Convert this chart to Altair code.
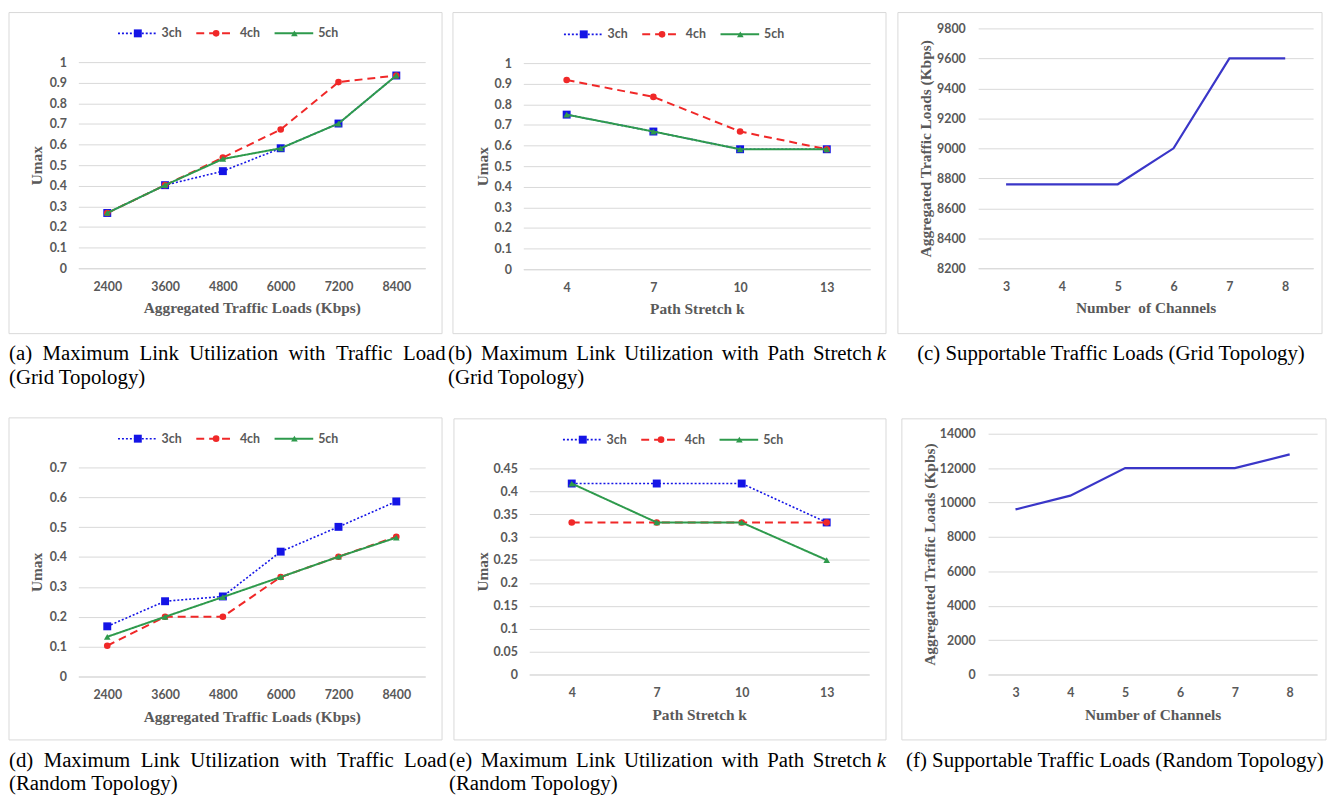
import altair as alt
import pandas as pd

# ---------------- data ----------------
SERIES = ["3ch", "4ch", "5ch"]
loads = [2400, 3600, 4800, 6000, 7200, 8400]
stretch = [4, 7, 10, 13]
channels = [3, 4, 5, 6, 7, 8]

a_3ch = [0.268, 0.403, 0.471, 0.582, 0.702, 0.935]
a_4ch = [0.268, 0.403, 0.537, 0.673, 0.903, 0.935]
a_5ch = [0.268, 0.403, 0.530, 0.582, 0.702, 0.935]

b_3ch = [0.750, 0.668, 0.582, 0.582]
b_4ch = [0.918, 0.836, 0.668, 0.582]
b_5ch = [0.750, 0.668, 0.582, 0.582]

c_load = [8760, 8760, 8760, 9000, 9600, 9600]

d_3ch = [0.168, 0.252, 0.268, 0.418, 0.501, 0.586]
d_4ch = [0.103, 0.200, 0.200, 0.333, 0.401, 0.468]
d_5ch = [0.133, 0.200, 0.266, 0.333, 0.401, 0.465]

e_3ch = [0.417, 0.417, 0.417, 0.332]
e_4ch = [0.332, 0.332, 0.332, 0.332]
e_5ch = [0.417, 0.332, 0.332, 0.250]

f_load = [9600, 10400, 12000, 12000, 12000, 12800]

ticks_util = [0, 0.1, 0.2, 0.3, 0.4, 0.5, 0.6, 0.7, 0.8, 0.9, 1]
ticks_d = [0, 0.1, 0.2, 0.3, 0.4, 0.5, 0.6, 0.7]
ticks_e = [0, 0.05, 0.1, 0.15, 0.2, 0.25, 0.3, 0.35, 0.4, 0.45]
ticks_c = [8200, 8400, 8600, 8800, 9000, 9200, 9400, 9600, 9800]
ticks_f = [0, 2000, 4000, 6000, 8000, 10000, 12000, 14000]

# ---------------- styles ----------------
COLORS = ["#1414e6", "#f02828", "#2e9a4c"]
DASHES = [[2, 2], [8, 5], [1, 0]]
WIDTHS = [1.6, 2, 2]
SHAPES = ["square", "circle", "triangle-up"]
SIZES = [64, 45, 45]
LOAD_COLOR = "#3a36c8"

TICK_FONT = "Lato"
TITLE_FONT = "Liberation Serif"
CAP_FONT = "Liberation Serif"
CAP_SIZE = 21
GRAY = "#595959"
GRID = "#d9d9d9"
WIDE = "\u2002"          # gap for justified caption lines (a, d)
MID = " \u2006"          # gap for justified caption lines (b, e)

one = pd.DataFrame({"k": [0]})


class Geo:
    """Page-pixel geometry of one panel, turned into plot-relative offsets."""

    def __init__(self, left, right, top, bottom, origin_y):
        self.left, self.oy = left, origin_y
        self.w = right - left
        self.h = bottom - origin_y
        self.rng = [bottom - origin_y, top - origin_y]

    def x(self, px):
        return px - self.left

    def y(self, py):
        return py - self.oy


def rect(g, box, stroke_opacity):
    x1, y1, x2, y2 = box
    return alt.Chart(one).mark_rect(
        fill="white", fillOpacity=0, stroke=GRID, strokeWidth=1,
        strokeOpacity=stroke_opacity
    ).encode(x=alt.value(g.x(x1)), x2=alt.value(g.x(x2)),
             y=alt.value(g.y(y1)), y2=alt.value(g.y(y2)))


def text(txt, x, y, align="left", font=CAP_FONT, size=CAP_SIZE, weight="normal",
         style="normal", color="black"):
    return alt.Chart(one).mark_text(
        align=align, baseline="middle", font=font, fontSize=size,
        fontWeight=weight, fontStyle=style, color=color
    ).encode(x=alt.value(x), y=alt.value(y), text=alt.value(txt))


def x_axis(title):
    return alt.Axis(
        title=title, grid=False, domain=True, domainColor=GRID, domainWidth=1,
        ticks=False, tickSize=0, labelAngle=0, labelPadding=18,
        labelBaseline="middle", labelFont=TICK_FONT, labelFontSize=12.5,
        labelFontWeight="bold", labelColor=GRAY, titleFont=TITLE_FONT,
        titleFontSize=15.5, titleFontWeight="bold", titleColor=GRAY,
        titleY=40, titleBaseline="middle")


def y_axis(title, values, fmt, g, ytitle_page_x, label_pad):
    return alt.Axis(
        title=title, values=values, format=fmt, grid=True, gridColor=GRID,
        gridWidth=1, domain=False, ticks=False, tickSize=0, labelPadding=label_pad,
        labelFont=TICK_FONT, labelFontSize=12.5, labelFontWeight="bold",
        labelColor=GRAY, titleFont=TITLE_FONT, titleFontSize=15.5,
        titleFontWeight="bold", titleColor=GRAY, titleX=g.x(ytitle_page_x),
        titleY=(g.rng[0] + g.rng[1]) / 2, titleBaseline="middle", titleAlign="center")


def captions(g, lines):
    return [text(t, g.x(x), g.y(y), align=al, style=st) for (t, x, y, al, st) in lines]


def util_panel(g, xv, ys, x_title, y_dom, y_ticks, frame, extent, leg, ytx, caps):
    layers = [rect(g, extent, 0), rect(g, frame, 1)]
    xenc = alt.X("x:O", scale=alt.Scale(type="point", padding=0.5), axis=x_axis(x_title))
    yenc = alt.Y("y:Q", scale=alt.Scale(domain=y_dom, range=g.rng, nice=False, zero=False),
                 axis=y_axis("Umax", y_ticks, "~g", g, ytx, 12))
    for i, s in enumerate(SERIES):
        df = pd.DataFrame({"x": xv, "y": ys[i]})
        base = alt.Chart(df).encode(x=xenc, y=yenc)
        layers.append(base.mark_line(color=COLORS[i], strokeDash=DASHES[i],
                                     strokeWidth=WIDTHS[i]))
        layers.append(base.mark_point(filled=True, shape=SHAPES[i], size=SIZES[i],
                                      color=COLORS[i], opacity=1))
    lx, ly = g.x(leg[0]), g.y(leg[1])
    for i, s in enumerate(SERIES):
        x = lx + 79 * i
        layers.append(alt.Chart(one).mark_rule(
            color=COLORS[i], strokeDash=DASHES[i], strokeWidth=WIDTHS[i]
        ).encode(x=alt.value(x), x2=alt.value(x + 39), y=alt.value(ly)))
        layers.append(alt.Chart(one).mark_point(
            filled=True, shape=SHAPES[i], size=SIZES[i], color=COLORS[i], opacity=1
        ).encode(x=alt.value(x + 20), y=alt.value(ly)))
        layers.append(text(s, x + 44, ly, font=TICK_FONT, size=12.5, weight="bold",
                           color=GRAY))
    layers += captions(g, caps)
    return alt.layer(*layers).properties(width=g.w, height=g.h)


def load_panel(g, xv, yv, x_title, y_title, y_dom, y_ticks, frame, extent, ytx, caps):
    layers = [rect(g, extent, 0), rect(g, frame, 1)]
    df = pd.DataFrame({"x": xv, "y": yv})
    layers.append(alt.Chart(df).mark_line(color=LOAD_COLOR, strokeWidth=2.2).encode(
        x=alt.X("x:O", scale=alt.Scale(type="point", padding=0.5), axis=x_axis(x_title)),
        y=alt.Y("y:Q", scale=alt.Scale(domain=y_dom, range=g.rng, nice=False, zero=False),
                axis=y_axis(y_title, y_ticks, "d", g, ytx, 13))))
    layers += captions(g, caps)
    return alt.layer(*layers).properties(width=g.w, height=g.h)


ROW1_Y, ROW2_Y = 59, 468

ga = Geo(78, 428, 59, 267, ROW1_Y)
gb = Geo(527, 877, 60, 268, ROW1_Y)
gc = Geo(986, 1324, 25, 267, ROW1_Y)
gd = Geo(78, 428, 468, 679, ROW2_Y)
ge = Geo(529, 872, 469, 677, ROW2_Y)
gf = Geo(992, 1324, 434, 677, ROW2_Y)

panel_a = util_panel(
    ga, loads, [a_3ch, a_4ch, a_5ch], "Aggregated Traffic Loads (Kbps)", [0, 1], ticks_util,
    (8, 9, 445, 333), (8, 9, 450, 410), (118, 30), 36,
    [("(a) Maximum Link Utilization with Traffic Load".replace(" ", WIDE), 8, 354, "left", "normal"),
     ("(Grid Topology)", 8, 378, "left", "normal")])

panel_b = util_panel(
    gb, stretch, [b_3ch, b_4ch, b_5ch], "Path Stretch k", [0, 1], ticks_util,
    (456, 9, 893, 333), (450, 9, 899, 410), (568, 31), 486,
    [("(b) Maximum Link Utilization with Path Stretch".replace(" ", MID), 451, 354, "left", "normal"),
     ("k", 893, 354, "right", "italic"),
     ("(Grid Topology)", 451, 378, "left", "normal")])

panel_c = load_panel(
    gc, channels, c_load, "Number\u00a0 of Channels", "Aggregated Traffic Loads (Kbps)",
    [8200, 9800], ticks_c, (905, 9, 1333, 333), (899, 9, 1333, 410), 933,
    [("(c) Supportable Traffic Loads (Grid Topology)", 1120, 354, "center", "normal")])

panel_d = util_panel(
    gd, loads, [d_3ch, d_4ch, d_5ch], "Aggregated Traffic Loads (Kbps)", [0, 0.7], ticks_d,
    (8, 418, 445, 743), (8, 410, 447, 797), (118, 439), 36,
    [("(d) Maximum Link Utilization with Traffic Load".replace(" ", WIDE), 8, 764, "left", "normal"),
     ("(Random Topology)", 8, 788, "left", "normal")])

panel_e = util_panel(
    ge, stretch, [e_3ch, e_4ch, e_5ch], "Path Stretch k", [0, 0.45], ticks_e,
    (453, 419, 889, 743), (447, 410, 899, 797), (563, 440), 482,
    [("(e) Maximum Link Utilization with Path Stretch".replace(" ", MID), 448, 764, "left", "normal"),
     ("k", 889, 764, "right", "italic"),
     ("(Random Topology)", 448, 788, "left", "normal")])

panel_f = load_panel(
    gf, channels, f_load, "Number of Channels", "Aggregatted Traffic Loads (Kpbs)",
    [0, 14000], ticks_f, (905, 419, 1333, 743), (899, 410, 1333, 797), 933,
    [("(f) Supportable Traffic Loads (Random Topology)", 1120, 764, "center", "normal")])

row1 = alt.hconcat(panel_a, panel_b, panel_c, spacing=0)
row2 = alt.hconcat(panel_d, panel_e, panel_f, spacing=0)

chart = alt.vconcat(row1, row2, spacing=0).properties(
    padding={"left": 0, "top": 0, "right": 0, "bottom": 0},
    background="white",
).configure_view(stroke=None)

chart.save("out.html", embed_options={"renderer": "svg", "actions": False})
